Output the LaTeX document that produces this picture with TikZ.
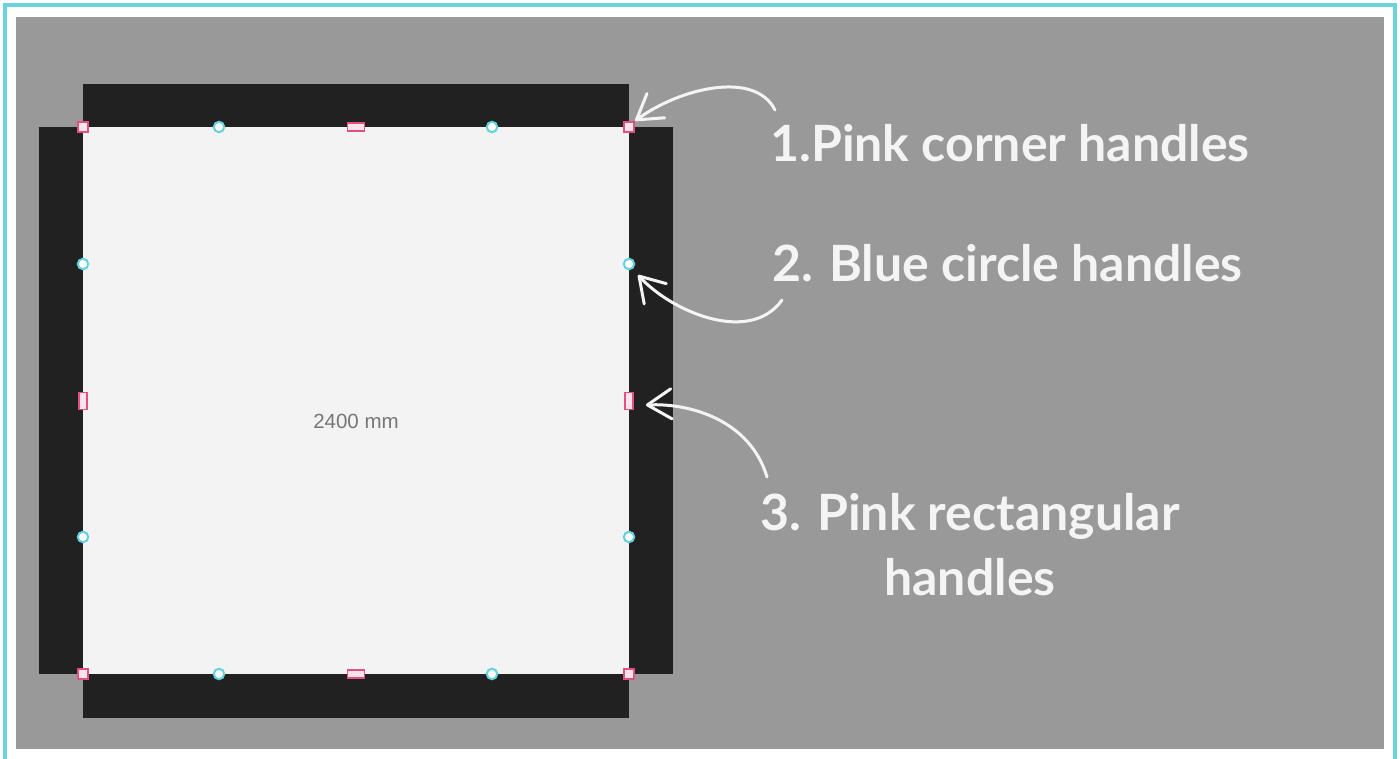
\documentclass[tikz,border=0pt]{standalone}
\usepackage{fontspec}
\setmainfont{Lato}
\newfontfamily\dimfont{Liberation Sans}
\usetikzlibrary{arrows.meta}
\definecolor{framecyan}{HTML}{6AD3DF}
\definecolor{bggray}{HTML}{999999}
\definecolor{wallgray}{HTML}{212121}
\definecolor{panelgray}{HTML}{F3F3F3}
\definecolor{handlepink}{HTML}{E2507F}
\definecolor{handlefill}{HTML}{FCE3EB}
\definecolor{handlecyan}{HTML}{62D2DC}
\definecolor{labelwhite}{HTML}{F4F4F4}
\definecolor{dimgray}{HTML}{777777}
\begin{document}
\begin{tikzpicture}[x=1pt,y=-1pt,
  corner/.style={draw=handlepink,fill=handlefill,line width=2pt,minimum size=10.5pt,inner sep=0pt},
  hmid/.style={draw=handlepink,fill=handlefill,line width=1.8pt,minimum width=17pt,minimum height=8pt,inner sep=0pt},
  vmid/.style={draw=handlepink,fill=handlefill,line width=1.8pt,minimum width=8pt,minimum height=17pt,inner sep=0pt},
  knob/.style={circle,draw=handlecyan,fill=white,line width=2pt,minimum size=10.5pt,inner sep=0pt},
  callout/.style={labelwhite,line width=3pt,line cap=round,-{Straight Barb[length=24pt,width=30pt,round]}},
  label/.style={text=labelwhite,font=\fontsize{50}{65}\selectfont\bfseries,inner sep=0pt}]
\useasboundingbox (0,0) rectangle (1400,758);
\draw[framecyan,line width=4pt] (5,780) -- (5,5) -- (1395,5) -- (1395,780);
\fill[bggray] (16,17) rectangle (1384,749);
% walls
\fill[wallgray] (83,84) rectangle (629,127);
\fill[wallgray] (83,674) rectangle (629,718);
\fill[wallgray] (39,127) rectangle (83,674);
\fill[wallgray] (629,127) rectangle (673,674);
\fill[panelgray] (83,127) rectangle (629,674);
\node[text=dimgray,font=\dimfont\fontsize{20.5}{24}\selectfont] (dim) at (356,421) {2400 mm};
% handles
\node[corner] (hTL) at (83,127) {};
\node[corner] (hTR) at (629,127) {};
\node[corner] (hBL) at (83,674) {};
\node[corner] (hBR) at (629,674) {};
\node[hmid] (hT) at (356,127) {};
\node[hmid] (hB) at (356,674) {};
\node[vmid] (hL) at (83,401) {};
\node[vmid] (hR) at (629,401) {};
\foreach \x/\y/\n in {219/127/T1,492/127/T2,219/674/B1,492/674/B2,83/264/L1,83/537/L2,629/264/R1,629/537/R2}
  \node[knob] (c\n) at (\x,\y) {};
% labels
\node[label,anchor=base west] (lab1) at (770,161) {1.Pink corner handles};
\node[label,anchor=base west] (lab2) at (772,281) {2. Blue circle handles};
\node[label,align=center,anchor=base] (lab3) at (970,595) {3. Pink rectangular\\handles};
\coordinate (s1) at (775,110);
\coordinate (s2) at (782,300);
\coordinate (s3) at (767,477);
\draw[callout] (s1) .. controls (755,70) and (680,88) .. (hTR.north east);
\draw[callout] (s2) .. controls (750,345) and (672,312) .. ([shift={(9,11)}]cR1.center);
\draw[callout] (s3) .. controls (750,420) and (690,403) .. ([shift={(12,4)}]hR.east);
\end{tikzpicture}
\end{document}
